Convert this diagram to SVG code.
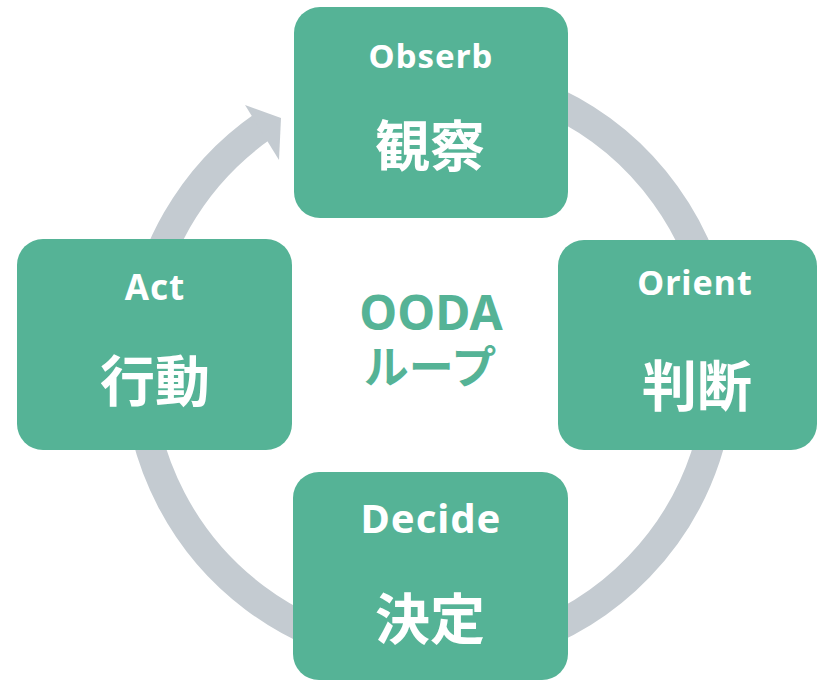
<svg xmlns="http://www.w3.org/2000/svg" width="820" height="680" viewBox="0 0 820 680">
<defs>
<style>
.box{fill:#55B396;}
.ring{fill:none;stroke:#C4CBD1;stroke-width:30;}
.head{fill:#C4CBD1;}
.en{font-family:"Noto Sans","Noto Sans CJK JP",sans-serif;font-weight:700;fill:#FFFFFF;text-anchor:middle;letter-spacing:1px;}
.jp{font-family:"Noto Sans CJK JP",sans-serif;font-weight:700;fill:#FFFFFF;text-anchor:middle;font-size:55px;}
.center{font-family:"Noto Sans","Noto Sans CJK JP",sans-serif;font-weight:700;fill:#55B396;text-anchor:middle;}
</style>
</defs>
<rect width="820" height="680" fill="#FFFFFF"/>
<g id="connectors">
<path class="ring" d="M 429 74 A 291 291 0 1 1 264 125.5"/>
<polygon class="head" points="245,105 281,118 279,160"/>
</g>
<g id="observe">
<rect class="box" x="294" y="7" width="274" height="211" rx="26" ry="26"/>
<text class="en" x="431" y="68" font-size="33">Obserb</text>
<text class="jp" x="430" y="166">観察</text>
</g>
<g id="orient">
<rect class="box" x="558" y="240" width="259" height="210" rx="26" ry="26"/>
<text class="en" x="695" y="295" font-size="34">Orient</text>
<text class="jp" x="697" y="406">判断</text>
</g>
<g id="decide">
<rect class="box" x="293" y="472" width="275" height="208" rx="26" ry="26"/>
<text class="en" x="431" y="533" font-size="40">Decide</text>
<text class="jp" x="430" y="639">決定</text>
</g>
<g id="act">
<rect class="box" x="17" y="239" width="275" height="211" rx="26" ry="26"/>
<text class="en" x="155" y="300" font-size="35">Act</text>
<text class="jp" x="155" y="401">行動</text>
</g>
<g id="ooda">
<text class="center" x="431" y="330" font-size="48">OODA</text>
<text class="center" x="430" y="384" font-size="45" font-family="Noto Sans CJK JP, sans-serif">ループ</text>
</g>
</svg>
